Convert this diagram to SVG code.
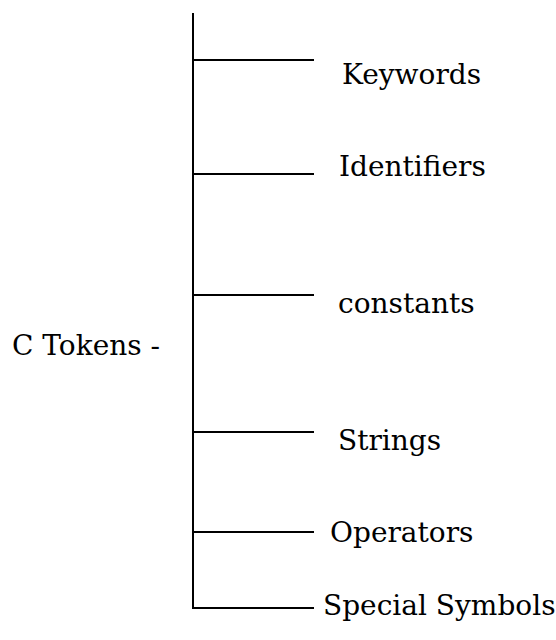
<svg xmlns="http://www.w3.org/2000/svg" width="556" height="640" viewBox="0 0 556 640">
  <style>
    .branch { stroke: #000; stroke-width: 2; fill: none; }
    .label { font-family: "DejaVu Serif", "Liberation Serif", serif; font-size: 28px; fill: #000; }
  </style>
  <rect width="556" height="640" fill="#fff"/>
  <g id="connectors">
    <line class="branch" x1="193" y1="13" x2="193" y2="609"/>
    <line class="branch" x1="192" y1="60" x2="314" y2="60"/>
    <line class="branch" x1="192" y1="174" x2="314" y2="174"/>
    <line class="branch" x1="192" y1="295" x2="314" y2="295"/>
    <line class="branch" x1="192" y1="432" x2="314" y2="432"/>
    <line class="branch" x1="192" y1="532" x2="314" y2="532"/>
    <line class="branch" x1="192" y1="608" x2="314" y2="608"/>
  </g>
  <g id="root"><text class="label" x="12" y="355">C Tokens -</text></g>
  <g id="keywords"><text class="label" x="342" y="84">Keywords</text></g>
  <g id="identifiers"><text class="label" x="339" y="176">Identifiers</text></g>
  <g id="constants"><text class="label" x="338" y="313">constants</text></g>
  <g id="strings"><text class="label" x="338" y="450">Strings</text></g>
  <g id="operators"><text class="label" x="330" y="542">Operators</text></g>
  <g id="special-symbols"><text class="label" x="323" y="615">Special Symbols</text></g>
</svg>
